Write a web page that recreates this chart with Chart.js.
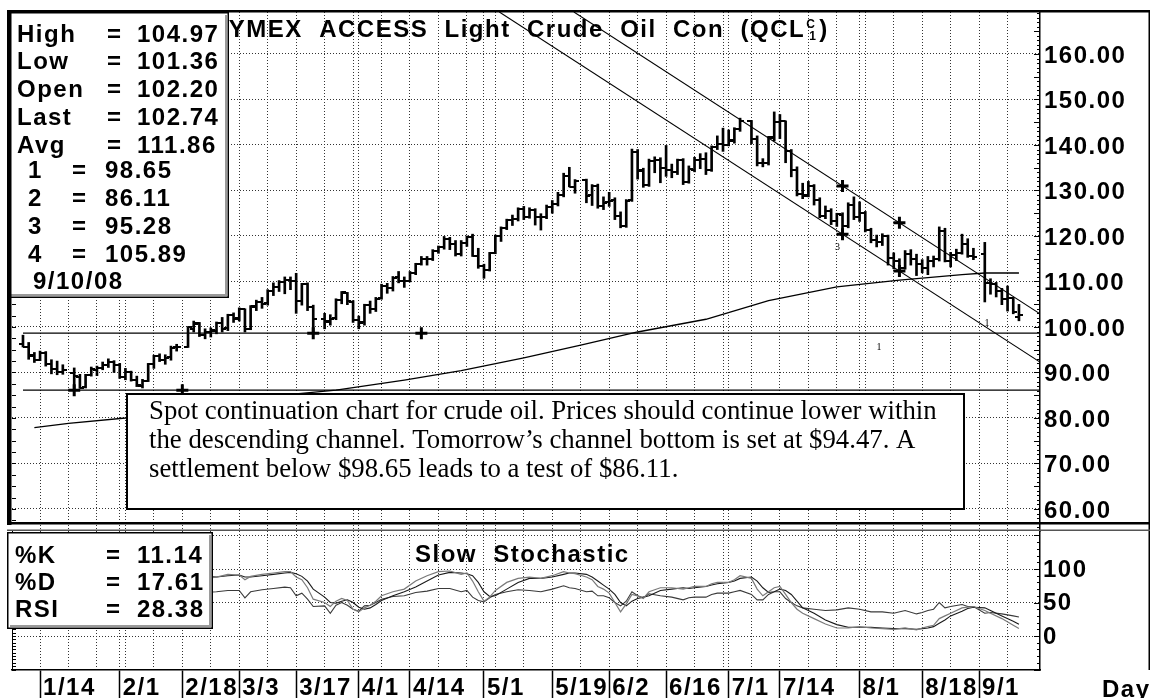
<!DOCTYPE html>
<html>
<head>
<meta charset="utf-8">
<title>NYMEX ACCESS Light Crude Oil Con</title>
<script src="https://cdn.jsdelivr.net/npm/chart.js@4.4.1/dist/chart.umd.min.js"></script>
<style>
html,body{margin:0;padding:0;background:#fff;overflow:hidden;}
canvas{display:block;}
</style>
</head>
<body>
<canvas id="chart" width="1155" height="698"></canvas>
<script>
// ---------------- DATA ----------------
// One slot per weekday: slot 0 = 1/9/08 ... slot 175 = 9/10/08.
// null = exchange holiday (1/21, 2/18, 3/21, 5/26, 7/4, 9/1), no bar drawn.
const priceOpen = [
96.3,95.6,93.8,92.8,94.2,91.9,90.8,90.2, null,
89.9,89.0,86.8,89.5,90.6,91.0,91.7,92.4,91.7,89.1,90.0,88.3,87.1,88.2,91.9,93.6,92.8,93.3,95.5, null,
95.7,99.5,100.8,98.3,98.8,99.2,100.9,99.7,102.6,101.9,103.9,99.6,104.5,105.4,105.2,107.9,108.8,109.9,110.3,110.0,105.8,109.4,104.5, null,
101.8,101.2,101.9,105.9,107.5,105.6,101.6,101.0,104.8,103.9,106.3,109.1,108.5,110.9,110.1,110.2,111.8,113.8,114.9,114.9,
116.7,117.5,119.4,118.3,116.1,118.5,119.7,115.6,113.5,112.5,116.3,120.0,121.8,123.5,123.7,126.0,124.2,125.8,124.1,124.1,
126.3,127.1,129.1,133.2,130.8, null,
132.2,128.9,131.0,126.6,127.4,127.8,124.3,122.3,127.8,138.5,134.4,131.3,136.4,136.7,134.9,134.6,134.0,136.7,131.9,134.6,
136.7,137.0,134.6,139.6,140.2,140.0,141.0,143.6, null,
145.3,141.4,136.0,136.1,141.6,145.1,145.2,138.7,134.6,129.3,128.9,131.0,128.0,124.4,125.5,123.3,124.7,122.2,126.8,124.1,
125.1,121.4,119.2,118.6,120.0,115.2,114.5,113.0,116.0,115.0,113.8,112.9,114.5,115.0,121.2,114.6,115.8,116.3,118.2,115.6, null,
116.0,109.7,109.4,107.9,106.2,106.3,102.20];
const priceHigh = [
98.2,96.6,94.4,94.7,94.6,92.8,92.5,91.7, null,
91.0,89.6,89.6,91.2,91.4,92.3,93.0,92.6,92.0,90.9,90.3,89.2,88.5,92.0,93.8,94.1,93.9,95.8,96.2, null,
100.1,101.3,101.0,99.6,99.8,101.1,102.1,102.8,103.1,104.2,104.0,104.7,105.9,106.5,108.2,109.7,110.2,111.0,111.0,111.8,109.6,109.7,104.8, null,
103.0,102.7,106.2,107.8,107.6,105.8,102.4,105.0,105.7,106.5,109.4,109.6,111.1,112.2,111.0,112.2,114.0,115.5,115.5,117.0,
117.8,119.9,119.7,119.0,119.0,120.0,120.4,117.3,113.8,116.4,120.2,122.0,123.7,124.6,126.2,126.5,126.2,126.0,124.9,126.8,
127.8,129.6,133.8,135.1,132.4, null,
132.5,131.3,131.4,128.6,129.6,128.4,125.3,128.0,139.1,139.0,134.9,136.9,137.4,137.2,139.9,135.8,136.9,137.0,135.4,137.3,
138.1,138.3,139.8,142.0,143.7,143.3,143.8,145.9, null,
145.4,142.0,137.0,141.9,147.27,146.7,145.3,139.0,135.2,131.6,132.0,131.3,128.4,126.6,126.0,125.0,125.1,127.3,128.6,127.5,
125.4,121.7,120.2,120.5,120.2,116.3,115.0,116.8,117.0,116.0,114.8,115.5,115.6,122.0,121.7,116.4,117.1,120.4,119.4,117.3, null,
118.6,110.6,109.8,108.5,109.0,106.5,104.97];
const priceLow = [
95.6,92.9,92.2,92.6,91.4,89.7,89.5,89.6, null,
86.11,86.5,86.6,89.2,89.3,90.6,91.1,90.0,88.7,88.4,88.1,86.9,86.6,88.0,90.9,92.4,91.8,92.7,94.7, null,
95.5,98.9,97.9,97.4,97.8,98.5,98.9,99.2,101.0,101.3,98.9,99.4,103.6,104.1,104.8,106.9,107.8,107.3,108.2,103.0,104.8,103.6,98.65, null,
99.6,100.4,101.6,105.1,104.9,101.0,99.6,100.4,103.0,103.4,106.1,107.4,107.9,109.7,108.7,109.9,111.5,113.6,113.6,114.6,
116.2,117.1,117.0,115.6,115.6,117.7,115.5,112.9,110.7,112.3,116.1,118.8,121.4,122.3,123.3,123.6,123.9,122.4,121.3,123.8,
125.0,126.6,128.6,130.8,129.4, null,
127.3,126.7,126.1,125.8,126.5,123.6,121.8,121.9,127.6,132.5,130.7,130.9,133.9,131.7,133.1,132.8,133.5,131.3,131.6,134.1,
134.8,133.5,134.2,139.0,138.6,139.8,140.4,143.0, null,
140.3,135.4,135.2,135.6,140.9,141.4,136.1,133.0,128.8,128.2,128.6,126.8,124.0,123.8,122.5,122.1,121.3,121.8,123.6,123.2,
120.9,118.5,117.6,117.9,113.6,112.8,112.2,112.7,113.6,111.3,111.9,111.5,113.2,114.5,114.3,113.2,114.6,116.0,115.3,114.8, null,
105.5,107.2,106.6,104.9,103.5,102.9,101.36];
const priceClose = [
95.67,93.69,92.69,94.20,91.90,90.84,90.13,90.57, null,
89.21,86.62,89.41,90.71,90.99,91.64,92.33,91.75,88.96,90.02,88.41,87.14,88.11,91.77,93.59,92.78,93.27,95.46,95.50, null,
100.01,100.74,98.23,98.81,99.23,100.88,99.64,102.59,101.84,103.95,99.52,104.52,105.47,105.15,107.90,108.75,109.92,110.33,110.21,105.68,109.42,104.48,101.84, null,
101.22,101.83,105.90,107.58,105.62,101.58,100.98,104.83,103.92,106.23,109.09,108.50,110.87,110.11,110.14,111.76,113.79,114.93,114.86,116.69,
117.48,119.37,118.30,116.06,118.52,119.75,115.63,113.46,112.52,116.32,119.97,121.84,123.53,123.69,125.96,124.23,125.80,124.12,124.12,126.29,
127.05,129.07,133.17,130.81,132.19, null,
128.85,131.03,126.62,127.35,127.76,124.31,122.30,127.79,138.54,134.35,131.31,136.38,136.74,134.86,134.61,134.01,136.68,131.93,134.62,136.74,
137.00,134.55,139.64,140.21,140.00,140.97,143.57,145.29, null,
141.37,136.04,136.05,141.65,145.08,145.18,138.74,134.60,129.29,128.88,131.04,127.95,124.44,125.49,123.26,124.73,122.19,126.77,124.08,125.10,
121.41,119.17,118.58,120.02,115.20,114.45,113.01,116.00,115.01,113.77,112.87,114.53,114.98,121.18,114.59,115.80,116.27,118.15,115.59,115.46, null,
109.71,109.35,107.89,106.23,106.34,103.26,102.74];

// moving average (Avg), by weekday slot
const maSlot = [2, 8, 18, 32, 48, 55, 67, 77, 88, 98, 108, 120, 131, 143, 154, 165, 169, 175];
const maVal = [77.9, 78.8, 80.0, 82.4, 85.3, 86.1, 88.3, 90.4, 93.2, 96.0, 98.9, 101.7, 105.8, 108.8, 110.3, 111.5, 111.86, 111.86];

// horizontal lines 1 and 2
const levelSlot = [0, 178.7];
const line1Val = [98.65, 98.65];
const line2Val = [86.11, 86.11];

// descending channel: line 4 (upper) and line 3 (lower)
const chanUpperSlot = [96.8, 178.7];
const chanUpperVal = [169.23, 102.89];
const chanLowerSlot = [83.7, 178.7];
const chanLowerVal = [169.23, 92.28];

// pivot markers
const starSlot = [9, 28, 51, 70, 144, 154, 144, 154];
const starVal = [86.11, 86.11, 98.65, 98.65, 131.0, 122.9, 120.4, 112.3];

// Slow stochastic %K, %D and RSI
const stochSlot = [25,27,30,32,34,36,38,39,40,42,44,46,47,48,49,50,51,53,54,55,56,57,58,59,60,61,62,63,65,67,69,71,73,75,77,78,79,80,81,82,83,85,87,89,91,93,95,96,97,99,100,101,102,103,104,105,106,107,108,109,110,112,114,116,117,118,120,121,122,124,125,126,128,129,130,131,132,133,134,135,136,137,139,141,143,145,147,149,151,153,155,157,158,159,160,161,162,163,165,166,167,169,170,172,174,175];
const stochK = [84,89,92,86,88,92,91,84,89,92,94,96,96,88,84,72,55,50,44,52,56,53,40,36,42,46,52,60,66,70,82,90,96,97,92,94,82,66,52,58,68,80,86,88,86,90,96,94,93,88,84,74,70,64,50,36,48,62,60,56,66,72,72,70,72,74,74,78,80,80,84,90,86,70,60,66,72,74,62,50,40,34,26,18,12,12,14,12,11,10,12,9,12,14,16,26,30,34,42,43,44,38,34,26,16,11.14];
const stochD = [78,84,89,89,88,90,91,88,88,90,92,94,95,93,89,82,70,58,50,49,52,54,50,43,40,42,47,53,60,66,73,82,91,95,94,93,90,80,66,59,60,70,80,86,86,88,92,94,94,92,88,82,76,70,62,50,45,52,56,58,60,68,70,72,71,72,74,76,78,80,82,86,88,82,72,65,66,70,68,62,52,42,34,24,17,13,13,13,12,11,11,10,11,12,14,19,24,30,37,41,43,42,38,30,22,17.61];
const stochRSI = [64,67,70,65,66,68,68,57,66,69,71,73,72,60,64,55,44,45,34,46,50,46,40,37,45,46,50,55,59,60,65,67,71,71,66,68,58,53,51,57,62,66,69,68,66,70,75,72,71,66,67,60,60,57,50,45,52,66,60,57,63,60,58,54,57,58,58,62,64,64,66,68,62,54,54,62,66,66,56,50,45,42,40,38,39,42,40,36,36,34,38,33,35,38,40,50,42,44,47,44,44,34,35,33,30,28.38];

// axis ticks / labels
const priceTicks = [60, 70, 80, 90, 100, 110, 120, 130, 140, 150, 160];
const stochTicks = [150, 100, 50, 0];
const stochTickLabels = ['', '100', '50', '0'];
const gridSlot = [3,8,13,17,18,23,28,33,38,43,48,53,58,59,63,68,73,78,81,83,88,93,98,103,108,113,118,123,124,128,133,138,143,147,148,153,158,163,168,173];
const dateLabelSlot = [3,17,28,38,48,59,68,81,93,103,113,124,133,147,158,168];
const dateLabelText = ['1/14','2/1','2/18','3/3','3/17','4/1','4/14','5/1','5/19','6/2','6/16','7/1','7/14','8/1','8/18','9/1'];

// text
const infoLabels = ['High', 'Low', 'Open', 'Last', 'Avg'];
const infoValues = ['104.97', '101.36', '102.20', '102.74', '111.86'];
const levelLabels = ['1', '2', '3', '4'];
const levelValues = ['98.65', '86.11', '95.28', '105.89'];
const infoDate = '9/10/08';
const stochLabels = ['%K', '%D', 'RSI'];
const stochValues = ['11.14', '17.61', '28.38'];
const noteLines = [
  'Spot continuation chart for crude oil. Prices should continue lower within',
  'the descending channel. Tomorrow\u2019s channel bottom is set at $94.47. A',
  'settlement below $98.65 leads to a test of $86.11.'
];

// ---------------- HELPERS ----------------
const FAM = '"Liberation Sans", Arial, Helvetica, sans-serif';
const BOLD = 'bold 24px ' + FAM;
const SPACING = '1.5px';

function tickImage(side) {
  const c = document.createElement('canvas');
  c.width = 8; c.height = 2;
  const g = c.getContext('2d');
  g.fillStyle = '#000';
  g.fillRect(side < 0 ? 0 : 4, 0, 4, 2);
  return c;
}
const openTick = tickImage(-1);
const closeTick = tickImage(1);

const slots = priceClose.map((_, w) => w);
const traded = slots.filter(w => priceHigh[w] !== null);
const pts = (xs, ys) => xs.map((v, k) => ({x: v, y: ys[k]}));

const labelOf = v => {
  const k = dateLabelSlot.indexOf(v);
  return k >= 0 ? dateLabelText[k] : '';
};
const zeroPad = s => { s.paddingTop = 0; s.paddingBottom = 0; s.paddingLeft = 0; s.paddingRight = 0; };

const overlay = {
  id: 'overlay',
  beforeDraw(chart) {
    const ctx = chart.ctx;
    ctx.save();
    ctx.fillStyle = '#fff';
    ctx.fillRect(0, 0, chart.width, chart.height);
    ctx.restore();
    ctx.letterSpacing = SPACING;
  },
  afterDraw(chart) {
    const ctx = chart.ctx;
    const ca = chart.chartArea;
    const xs = chart.scales.x, ys = chart.scales.y, ys2 = chart.scales.y2;
    ctx.save();
    ctx.letterSpacing = '0px';

    // minor tick combs along the right axis and the left edge
    ctx.strokeStyle = '#000';
    ctx.lineWidth = 1;
    ctx.beginPath();
    for (let v = 56; v <= 169; v++) {
      const p = Math.round(ys.getPixelForValue(v)) + 0.5;
      const L = v % 5 === 0 ? 6 : 3;
      ctx.moveTo(ca.right - L, p); ctx.lineTo(ca.right, p);
    }
    for (let v = -50; v <= 150; v += 10) {
      const p = Math.round(ys2.getPixelForValue(v)) + 0.5;
      const L = v % 50 === 0 ? 6 : 3;
      ctx.moveTo(ca.right - L, p); ctx.lineTo(ca.right, p);
    }
    for (let k = 23; k <= 67; k++) {
      const p = Math.round(ys.getPixelForValue(k * 2.5)) + 0.5;
      ctx.moveTo(ca.left, p); ctx.lineTo(ca.left + 4, p);
    }
    for (let v = -50; v <= 150; v += 5) {
      const p = Math.round(ys2.getPixelForValue(v)) + 0.5;
      ctx.moveTo(ca.left, p); ctx.lineTo(ca.left + 4, p);
    }
    ctx.moveTo(ca.left + 0.5, 530); ctx.lineTo(ca.left + 0.5, ca.bottom);
    ctx.stroke();

    // small chart annotations
    ctx.fillStyle = '#000';
    ctx.font = '10px "Liberation Serif", serif';
    ctx.textAlign = 'center';
    ctx.textBaseline = 'middle';
    ctx.fillText('3', xs.getPixelForValue(143.1), ys.getPixelForValue(117.4));
    ctx.fillText('1', xs.getPixelForValue(150.4), ys.getPixelForValue(95.6));
    ctx.fillText('1', xs.getPixelForValue(169.4), ys.getPixelForValue(100.9));

    // title
    ctx.textAlign = 'left';
    ctx.textBaseline = 'alphabetic';
    ctx.font = BOLD;
    ctx.letterSpacing = SPACING;
    const title = 'NYMEX  ACCESS  Light  Crude  Oil  Con  (QCL';
    const tx = 210;
    ctx.fillText(title, tx, 37);
    const tw = ctx.measureText(title).width;
    ctx.font = 'bold 12px ' + FAM;
    ctx.letterSpacing = '0px';
    ctx.fillText('C', tx + tw + 1, 28);
    ctx.fillText('1', tx + tw + 4, 40);
    ctx.font = BOLD;
    ctx.letterSpacing = SPACING;
    ctx.fillText(')', tx + tw + 14, 37);

    // stochastic title and axis unit
    ctx.fillText('Slow  Stochastic', 415, 562);
    ctx.fillText('Day', 1102, 697);

    // info boxes
    function box(x0, y0, x1, y1) {
      ctx.fillStyle = '#fff';
      ctx.fillRect(x0, y0, x1 - x0, y1 - y0);
      ctx.strokeStyle = '#9a9a9a';
      ctx.lineWidth = 2;
      ctx.beginPath();
      ctx.moveTo(x1 - 3, y0 + 3); ctx.lineTo(x1 - 3, y1 - 3); ctx.lineTo(x0 + 3, y1 - 3);
      ctx.stroke();
      ctx.strokeStyle = '#000';
      ctx.lineWidth = 1.5;
      ctx.strokeRect(x0 + 0.75, y0 + 0.75, x1 - x0 - 1.5, y1 - y0 - 1.5);
    }
    box(7, 12, 229, 298);
    ctx.fillStyle = '#000';
    ctx.font = BOLD;
    ctx.letterSpacing = SPACING;
    const rowY = [42, 69, 97, 125, 153, 178, 206, 234, 262, 289];
    infoLabels.forEach((t, k) => {
      ctx.fillText(t, 17, rowY[k]);
      ctx.fillText('=', 107, rowY[k]);
      ctx.fillText(infoValues[k], 137, rowY[k]);
    });
    levelLabels.forEach((t, k) => {
      ctx.fillText(t, 28, rowY[5 + k]);
      ctx.fillText('=', 72, rowY[5 + k]);
      ctx.fillText(levelValues[k], 105, rowY[5 + k]);
    });
    ctx.fillText(infoDate, 33, rowY[9]);

    box(7, 532, 213, 629);
    ctx.fillStyle = '#000';
    const sY = [563, 590, 617];
    stochLabels.forEach((t, k) => {
      ctx.fillText(t, 15, sY[k]);
      ctx.fillText('=', 106, sY[k]);
      ctx.fillText(stochValues[k], 137, sY[k]);
    });

    // commentary box
    ctx.fillStyle = '#fff';
    ctx.fillRect(126, 393, 839, 117);
    ctx.strokeStyle = '#000';
    ctx.lineWidth = 2;
    ctx.strokeRect(127, 394, 837, 115);
    ctx.letterSpacing = '0px';
    ctx.font = '100px "Liberation Serif", "Times New Roman", serif';
    const w100 = ctx.measureText(noteLines[0]).width;
    const fs = Math.min(28, 100 * 788 / w100);
    ctx.font = fs.toFixed(2) + 'px "Liberation Serif", "Times New Roman", serif';
    ctx.fillStyle = '#000';
    const nY = [419, 448, 477];
    noteLines.forEach((t, k) => ctx.fillText(t, 149, nY[k]));

    // frame
    ctx.fillStyle = '#000';
    ctx.fillRect(7, 10, 1143, 2.5);
    ctx.fillRect(7, 10, 4.5, 515);
    ctx.fillRect(1148.5, 10, 1.5, 660);
    ctx.fillRect(7, 522, 1143, 2.5);
    ctx.fillStyle = '#555';
    ctx.fillRect(7, 529.5, 1143, 1.5);
    ctx.restore();
  }
};

new Chart(document.getElementById('chart'), {
  type: 'line',
  data: {
    datasets: [
      { label: 'Pivots', data: pts(starSlot, starVal), showLine: false, pointStyle: 'cross',
        pointRadius: 6, pointBorderWidth: 3, borderColor: '#000', backgroundColor: '#000', yAxisID: 'y', order: 0 },
      { label: 'Open', data: traded.map(w => ({x: w, y: priceOpen[w]})), showLine: false, pointStyle: openTick,
        pointRadius: 2, borderColor: '#000', yAxisID: 'y', order: 1 },
      { label: 'Close', data: traded.map(w => ({x: w, y: priceClose[w]})), showLine: false, pointStyle: closeTick,
        pointRadius: 2, borderColor: '#000', yAxisID: 'y', order: 1 },
      { type: 'bar', label: 'High-Low', data: traded.map(w => ({x: w, y: [priceLow[w], priceHigh[w]]})),
        backgroundColor: '#000', borderWidth: 0, barThickness: 2, grouped: false, yAxisID: 'y', order: 2 },
      { label: 'Avg', data: pts(maSlot, maVal), borderColor: '#000', borderWidth: 1.3, pointRadius: 0, yAxisID: 'y', order: 3 },
      { label: '1', data: pts(levelSlot, line1Val), borderColor: '#000', borderWidth: 1.3, pointRadius: 0, yAxisID: 'y', order: 3 },
      { label: '2', data: pts(levelSlot, line2Val), borderColor: '#000', borderWidth: 1.3, pointRadius: 0, yAxisID: 'y', order: 3 },
      { label: '4', data: pts(chanUpperSlot, chanUpperVal), borderColor: '#000', borderWidth: 1.1, pointRadius: 0, yAxisID: 'y', order: 3 },
      { label: '3', data: pts(chanLowerSlot, chanLowerVal), borderColor: '#000', borderWidth: 1.1, pointRadius: 0, yAxisID: 'y', order: 3 },
      { label: '%K', data: pts(stochSlot, stochK), borderColor: '#7a7a7a', borderWidth: 1.2, pointRadius: 0, yAxisID: 'y2', order: 4 },
      { label: '%D', data: pts(stochSlot, stochD), borderColor: '#1a1a1a', borderWidth: 1.1, pointRadius: 0, yAxisID: 'y2', order: 4 },
      { label: 'RSI', data: pts(stochSlot, stochRSI), borderColor: '#3a3a3a', borderWidth: 1.1, pointRadius: 0, yAxisID: 'y2', order: 4 }
    ]
  },
  options: {
    responsive: false,
    animation: false,
    events: [],
    layout: {padding: {left: 12, top: 12, right: 5, bottom: 0}},
    plugins: {legend: {display: false}, tooltip: {enabled: false}, title: {display: false}},
    scales: {
      x: {
        type: 'linear', min: -1.93, max: 178.7, bounds: 'data', offset: false,
        afterBuildTicks: s => { s.ticks = gridSlot.map(v => ({value: v})); },
        afterFit: s => { s.height = 28; zeroPad(s); },
        ticks: {
          autoSkip: false, maxRotation: 0, minRotation: 0, align: 'start',
          padding: -24, labelOffset: 3, color: '#000',
          font: {family: FAM, size: 24, weight: 'bold', lineHeight: 1.2},
          callback: v => labelOf(v)
        },
        grid: {
          offset: false, color: '#333', lineWidth: 1, drawTicks: true, tickLength: 28, tickWidth: 1.5,
          tickBorderDash: [],
          tickColor: c => (c.tick && dateLabelSlot.indexOf(c.tick.value) >= 0) ? '#000' : 'rgba(0,0,0,0)'
        },
        border: {display: true, color: '#000', width: 1.5, dash: [1, 2]}
      },
      y: {
        type: 'linear', position: 'right', stack: 'panels', stackWeight: 519,
        min: 55.16, max: 169.23, bounds: 'data', offset: false,
        afterBuildTicks: s => { s.ticks = priceTicks.map(v => ({value: v})); },
        afterFit: s => { s.width = 110; zeroPad(s); },
        ticks: {
          autoSkip: false, padding: 4, labelOffset: 2, color: '#000',
          font: {family: FAM, size: 24, weight: 'bold', lineHeight: 1.2},
          callback: v => Number(v).toFixed(2)
        },
        grid: {color: '#333', lineWidth: 1, drawTicks: false},
        border: {display: true, color: '#000', width: 1.5, dash: [1, 2]}
      },
      y2: {
        type: 'linear', position: 'right', stack: 'panels', stackWeight: 139,
        min: -50.7, max: 156.7, bounds: 'data', offset: false,
        afterBuildTicks: s => { s.ticks = stochTicks.map(v => ({value: v})); },
        afterFit: s => { s.width = 110; zeroPad(s); },
        ticks: {
          autoSkip: false, padding: 3, labelOffset: 1, color: '#000',
          font: {family: FAM, size: 24, weight: 'bold', lineHeight: 1.2},
          callback: v => stochTickLabels[stochTicks.indexOf(v)] || ''
        },
        grid: {color: '#333', lineWidth: 1, drawTicks: false},
        border: {display: true, color: '#000', width: 1.5, dash: [1, 2]}
      }
    }
  },
  plugins: [overlay]
});
</script>
</body>
</html>
